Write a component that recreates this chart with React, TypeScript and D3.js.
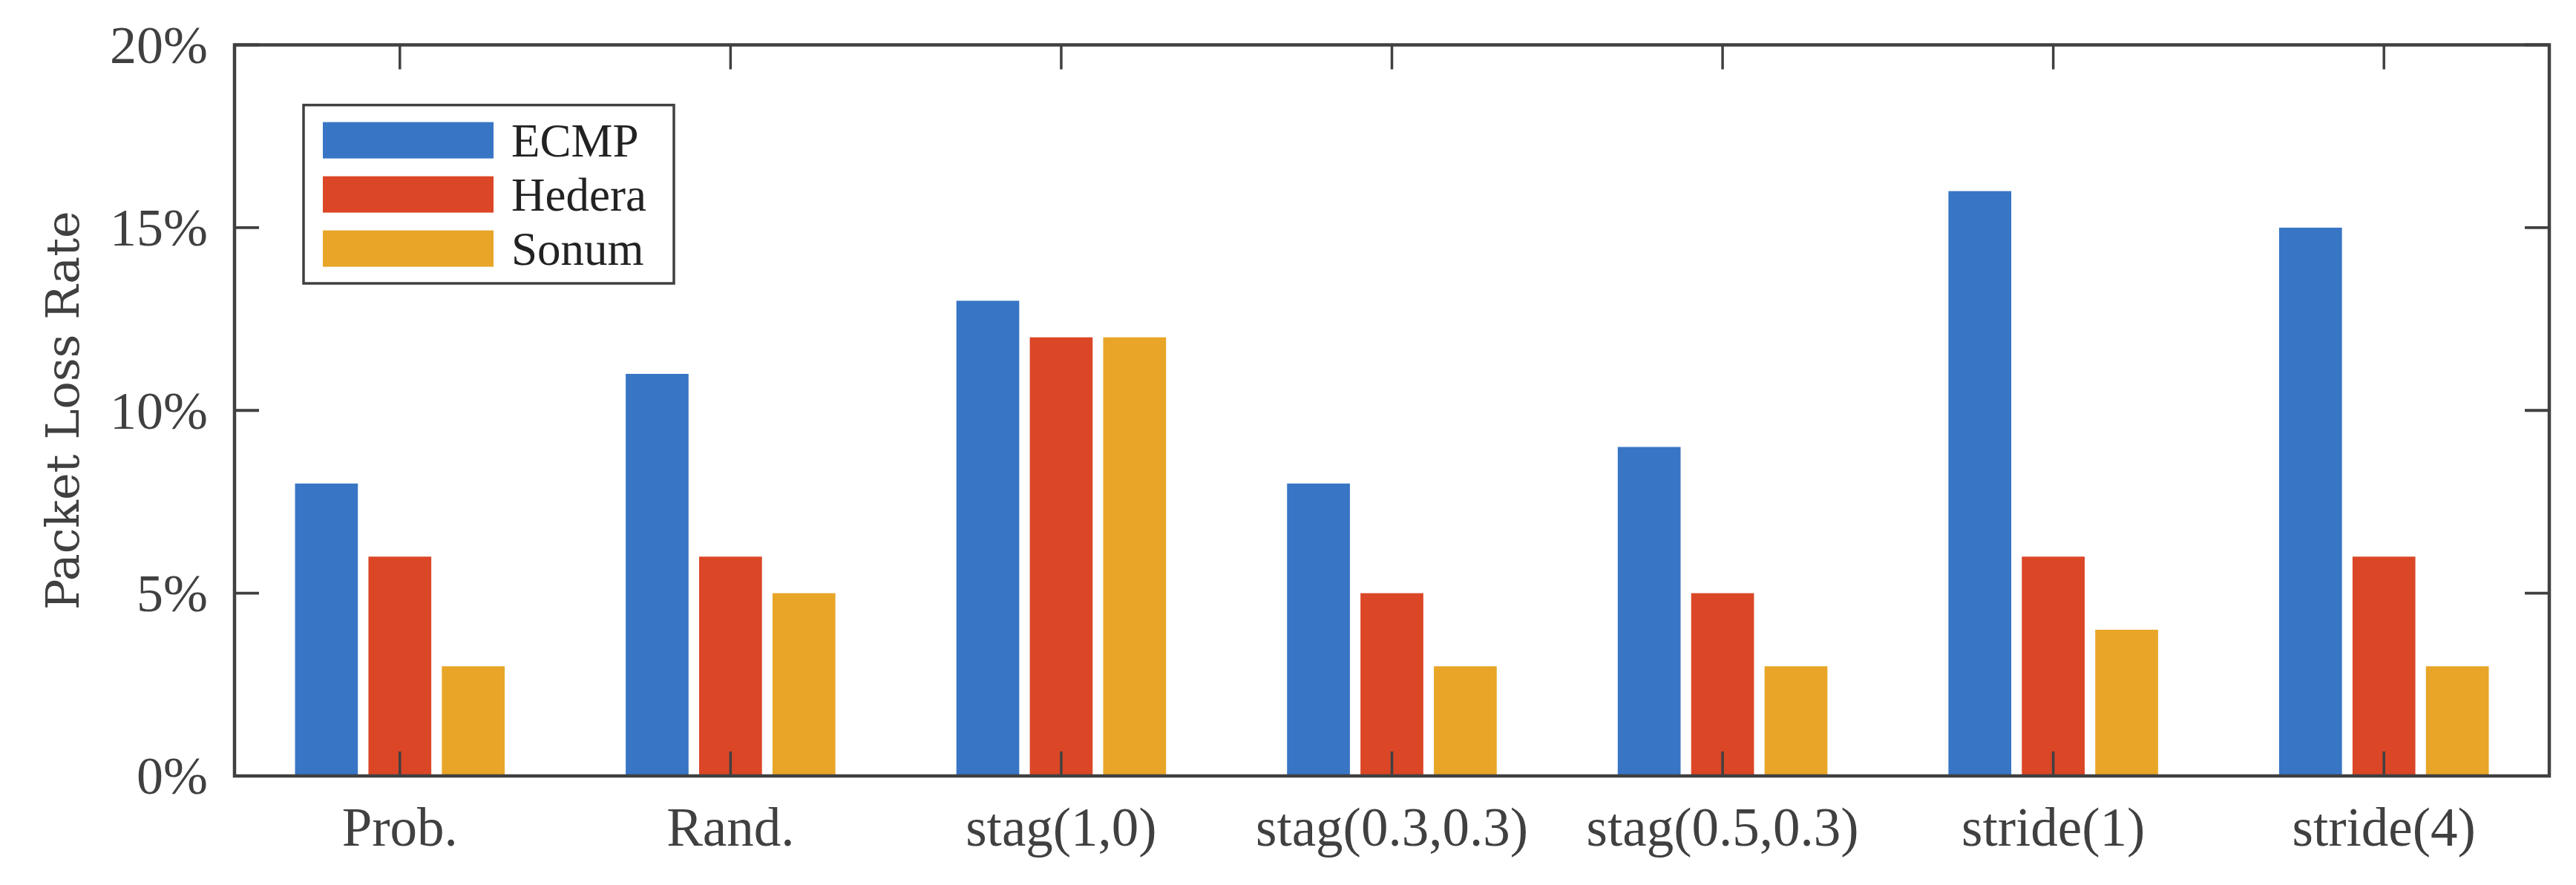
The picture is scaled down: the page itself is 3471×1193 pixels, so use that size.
import React from "react";
import * as d3 from "d3";

const categories = ["Prob.", "Rand.", "stag(1,0)", "stag(0.3,0.3)", "stag(0.5,0.3)", "stride(1)", "stride(4)"];
const seriesNames = ["ECMP", "Hedera", "Sonum"];
const ecmp = [8, 11, 13, 8, 9, 16, 15];
const hedera = [6, 6, 12, 5, 5, 6, 6];
const sonum = [3, 5, 12, 3, 3, 4, 3];
const seriesColors = ["#3875c5", "#db4626", "#e8a527"];
const yTicks = [0, 5, 10, 15, 20];
const yLabel = "Packet Loss Rate";

const W = 3471;
const H = 1193;
const left = 316;
const right = 3435;
const top = 60.5;
const bottom = 1046;
const axisColor = "#404040";

export default function App() {
  const values = [ecmp, hedera, sonum];
  const x = d3.scaleBand<string>().domain(categories).range([left, right]).padding(0);
  const bw = x.bandwidth();
  const slot = 0.222 * bw;
  const inner = d3
    .scaleBand<string>()
    .domain(seriesNames)
    .range([-1.5 * slot, 1.5 * slot])
    .paddingInner(0.144)
    .paddingOuter(0.072);
  const y = d3.scaleLinear().domain([0, 20]).range([bottom, top]);
  const tickLen = 33;
  const tickFont = "'Liberation Serif', 'Times New Roman', serif";

  return (
    <svg
      width={W}
      height={H}
      viewBox={`0 0 ${W} ${H}`}
      style={{ position: "absolute", left: 0, top: 0, background: "#fff" }}
    >
      <rect x={0} y={0} width={W} height={H} fill="#fff" />
      {categories.map((c, ci) => (
        <g key={c}>
          {seriesNames.map((s, si) => {
            const cx = (x(c) as number) + bw / 2;
            const v = values[si][ci];
            return (
              <rect
                key={s}
                x={cx + (inner(s) as number)}
                y={y(v)}
                width={inner.bandwidth()}
                height={y(0) - y(v)}
                fill={seriesColors[si]}
              />
            );
          })}
        </g>
      ))}
      {categories.map((c) => {
        const cx = (x(c) as number) + bw / 2;
        return (
          <g key={"xt" + c}>
            <line x1={cx} x2={cx} y1={bottom} y2={bottom - tickLen} stroke={axisColor} strokeWidth={3.5} />
            <line x1={cx} x2={cx} y1={top} y2={top + tickLen} stroke={axisColor} strokeWidth={3.5} />
            <text
              x={cx}
              y={1140}
              textAnchor="middle"
              fontFamily={tickFont}
              fontSize={73}
              fill={axisColor}
            >
              {c}
            </text>
          </g>
        );
      })}
      {yTicks.map((t) => (
        <g key={"yt" + t}>
          <line x1={left} x2={left + tickLen} y1={y(t)} y2={y(t)} stroke={axisColor} strokeWidth={3.8} />
          <line x1={right} x2={right - tickLen} y1={y(t)} y2={y(t)} stroke={axisColor} strokeWidth={3.8} />
          <text
            x={280}
            y={y(t)}
            dy="0.34em"
            textAnchor="end"
            fontFamily={tickFont}
            fontSize={72}
            fill={axisColor}
          >
            {`${t}%`}
          </text>
        </g>
      ))}
      <rect
        x={left}
        y={top}
        width={right - left}
        height={bottom - top}
        fill="none"
        stroke={axisColor}
        strokeWidth={4.5}
      />
      <text
        transform={`translate(106, ${(top + bottom) / 2}) rotate(-90)`}
        textAnchor="middle"
        fontFamily="'DejaVu Serif', serif"
        fontSize={62}
        fill={axisColor}
      >
        {yLabel}
      </text>
      <g>
        <rect x={409} y={141.6} width={499} height={240.4} fill="#fff" stroke={axisColor} strokeWidth={3.5} />
        {seriesNames.map((s, i) => {
          const ry = 164.6 + i * 73;
          return (
            <g key={"lg" + s}>
              <rect x={435} y={ry} width={230} height={49} fill={seriesColors[i]} />
              <text
                x={689}
                y={ry + 24.5}
                dy="0.34em"
                fontFamily={tickFont}
                fontSize={63}
                fill="#222"
              >
                {s}
              </text>
            </g>
          );
        })}
      </g>
    </svg>
  );
}
